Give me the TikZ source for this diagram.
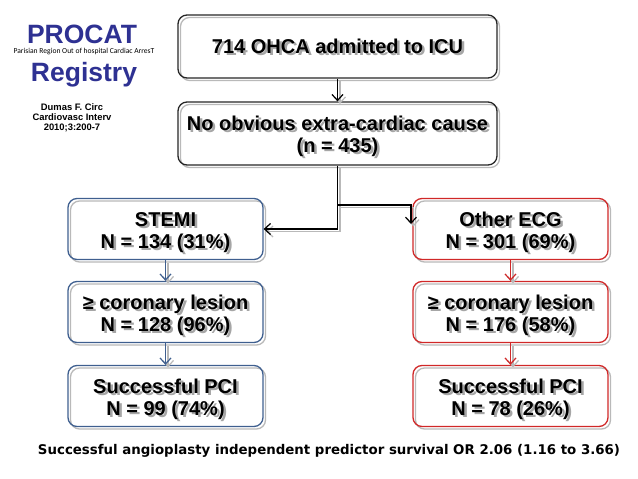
\documentclass[tikz,border=0pt]{standalone}
\usepackage{fontspec}
\setmainfont{Liberation Sans}
\newfontfamily\carl{Carlito}
\newfontfamily\dv{DejaVu Sans}
\usetikzlibrary{arrows.meta}
\definecolor{bbox}{HTML}{3F5F8F}
\definecolor{rbox}{HTML}{D02828}
\definecolor{ttl}{HTML}{2E3192}
\newcommand\shd[1]{\leavevmode\rlap{\smash{\hspace{2.5pt}\raisebox{-2pt}{\textcolor{black!35}{#1}}}}#1}
\newcommand\tp{\rule{0pt}{21pt}}
\begin{document}
\begin{tikzpicture}[x=1pt,y=-1pt,
  shad/.style={preaction={draw=gray!55,line width=1.3pt,transform canvas={shift={(2.5pt,-2.5pt)}}}},
  box/.style={shad,draw=#1,line width=1.3pt,rounded corners=9pt,align=center,inner sep=0pt,
    font=\bfseries\fontsize{20}{22}\selectfont},
  wbox/.style={box=#1,minimum width=195pt,minimum height=61pt},
  conn/.style={shad,draw=#1,line width=1.4pt,-{Straight Barb[length=6pt,width=11pt,line width=1.2pt]}},
  ttlf/.style={text=ttl,font=\bfseries\fontsize{26.5}{28}\selectfont}
]
\useasboundingbox (0,0) rectangle (638,479);

% title block
\node[ttlf] (procat) at (82,34) {PROCAT};
\node[font=\carl\fontsize{7.6}{9}\selectfont] (sub) at (84,52) {Parisian Region Out of hospital Cardiac ArresT};
\node[ttlf] (reg) at (84,75) {Registry};
\node[align=center,font=\bfseries\fontsize{9.4}{10.3}\selectfont] (cite) at (72,118) {Dumas F. Circ\\Cardiovasc Interv\\2010;3:200-7};

% boxes
\node[box=black!85,minimum width=319pt,minimum height=63pt] (t1) at (337.5,46.5) {\shd{714 OHCA admitted to ICU}};
\node[box=black!85,minimum width=319pt,minimum height=63pt] (t2) at (337.5,133.5) {\tp\shd{No obvious extra-cardiac cause}\\\shd{(n = 435)}};

\node[wbox=bbox] (stemi) at (165.5,229) {\tp\shd{STEMI}\\\shd{N = 134 (31\%)}};
\node[wbox=bbox] (lesL) at (165.5,312) {\tp\shd{≥ coronary lesion}\\\shd{N = 128 (96\%)}};
\node[wbox=bbox] (pciL) at (165.5,396) {\tp\shd{Successful PCI}\\\shd{N = 99 (74\%)}};

\node[wbox=rbox] (other) at (510.5,229) {\tp\shd{Other ECG}\\\shd{N = 301 (69\%)}};
\node[wbox=rbox] (lesR) at (510.5,312) {\tp\shd{≥ coronary lesion}\\\shd{N = 176 (58\%)}};
\node[wbox=rbox] (pciR) at (510.5,396) {\tp\shd{Successful PCI}\\\shd{N = 78 (26\%)}};

% connectors
\draw[conn=black] (t1) -- (t2);
\draw[conn=black] (t2.south) |- (stemi.east);
\coordinate (jr) at (337.5,205);
\coordinate (ra) at (411,224);
\draw[conn=black] (jr) -| (ra);
\draw[conn=bbox] (stemi) -- (lesL);
\draw[conn=bbox] (lesL) -- (pciL);
\draw[conn=rbox] (other) -- (lesR);
\draw[conn=rbox] (lesR) -- (pciR);

% footer
\node[font=\dv\bfseries] (foot) at (329,451) {\resizebox{582pt}{!}{Successful angioplasty independent predictor survival OR 2.06 (1.16 to 3.66)}};
\end{tikzpicture}
\end{document}
